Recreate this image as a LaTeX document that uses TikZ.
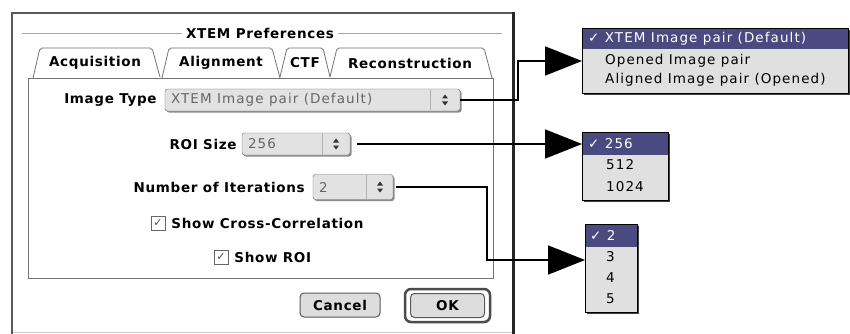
\documentclass[tikz,border=0pt]{standalone}
\usepackage{fontspec}
\setmainfont{DejaVu Sans}
\newfontfamily\chifont[LetterSpace=5]{DejaVu Sans}
\newfontfamily\genfont[LetterSpace=8]{DejaVu Sans}
\usetikzlibrary{positioning,arrows.meta}
\definecolor{menuhi}{HTML}{4A4A80}
\definecolor{menubg}{HTML}{E0E0E0}
\definecolor{popbg}{HTML}{E2E2E2}
\definecolor{btnbg}{HTML}{DDDDDD}
\newcommand{\lblfont}{\chifont\bfseries\fontsize{13.5}{15}\selectfont}
\newcommand{\itemfont}{\genfont\fontsize{13.5}{15}\selectfont}

\begin{document}
\begin{tikzpicture}[x=1pt,y=-1pt,
lbl/.style={font=\lblfont, inner sep=0pt},
popbox/.style={draw=black!60, fill=popbg, rounded corners=2.5pt, inner sep=0pt, minimum height=22pt,
  preaction={fill=black!45, transform canvas={xshift=1.5pt,yshift=-1.5pt}}},
poptext/.style={font=\itemfont, text=black!60, inner sep=0pt, anchor=west},
tab/.style={draw=black!55, fill=white, line width=0.8pt, rounded corners=2pt},
chk/.style={draw=black!60, fill=white, text=black!70, minimum size=14pt, inner sep=0pt, font=\bfseries\fontsize{11}{11}\selectfont},
btn/.style={draw=black!65, fill=btnbg, rounded corners=4pt, font=\lblfont, line width=1pt, minimum height=24pt},
menubox/.style={draw=black, fill=menubg, inner sep=0pt, anchor=north west, line width=1pt},
menuhl/.style={fill=menuhi, inner sep=0pt, anchor=north west},
item/.style={font=\itemfont, inner sep=0pt, anchor=west},
conn/.style={line width=1.8pt, -{Triangle[length=37pt,width=29pt]}},
updown/.pic={\fill[black!80] (-3,-1.5) -- (3,-1.5) -- (0,-5.5) -- cycle;
             \fill[black!80] (-3,1.5) -- (3,1.5) -- (0,5.5) -- cycle;}
]
\useasboundingbox (0,0) rectangle (850,334);
\fill[white] (0,0) rectangle (850,334);
%Window
\draw[black!20] (12,332) -- (513,332);
\draw[black!65, line width=2pt] (12,334) -- (12,13) -- (513,13);
\draw[black!85, line width=3pt] (513,12) -- (513,334);
\node[lbl] (title) at (260,33) {XTEM Preferences};
\draw[black!35] (22,33) -- ([xshift=-4pt]title.west);
\draw[black!35] ([xshift=4pt]title.east) -- (502,33);
%Panel and tabs
\draw[black!55, line width=0.8pt, fill=white] (28,78) rectangle (493,278);
\draw[tab] (33,78) -- (40,48) -- (152,48) -- (160,77);
\draw[tab] (280,77) -- (287,48) -- (323,48) -- (330,77);
\draw[tab] (330,77) -- (337,48) -- (484,48) -- (492,78);
\draw[tab] (162,78) -- (169,48) -- (272,48) -- (280,78);
\node[lbl] (acqtab)   at (95,63)  {Acquisition};
\node[lbl] (aligntab) at (221,63) {Alignment};
\node[lbl] (ctftab)   at (305,63) {CTF};
\node[lbl] (rectab)   at (410,63) {Reconstruction};
%Popups
\node[popbox, minimum width=295pt] (imgpop) at (312.5,100) {};
\node[poptext] (imgval) at ([xshift=6pt]imgpop.west) {XTEM Image pair (Default)};
\draw[black!30] (430,90) -- (430,110);
\pic at (445,100) {updown};
\node[lbl, left=8pt of imgpop] (typelbl) {Image Type};

\node[popbox, minimum width=108pt] (roipop) at (296,144) {};
\node[poptext] (roival) at ([xshift=6pt]roipop.west) {256};
\draw[black!30] (322,133) -- (322,155);
\pic at (336,144) {updown};
\node[lbl, left=5pt of roipop] (roilbl) {ROI Size};

\node[popbox, minimum width=80pt, minimum height=25pt] (iterpop) at (353,187) {};
\node[poptext] (iterval) at ([xshift=6pt]iterpop.west) {2};
\draw[black!30] (366,175) -- (366,199);
\pic at (380,187) {updown};
\node[lbl, left=8pt of iterpop] (iterlbl) {Number of Iterations};
%Checkboxes
\node[chk] (cbxcorr) at (158,223) {✓};
\node[lbl, right=6pt of cbxcorr] (corrlbl) {Show Cross-Correlation};
\node[chk] (cbxroi) at (221,257) {✓};
\node[lbl, right=6pt of cbxroi] (showroi) {Show ROI};
%Buttons
\node[btn, minimum width=80pt] (cancel) at (340,305) {Cancel};
\node[draw=black!70, line width=2.5pt, rounded corners=6pt, minimum width=85pt, minimum height=33pt] (okring) at (447.5,305.5) {};
\node[btn, minimum width=74pt] (ok) at (okring) {OK};
%Menus
\fill[black!75] (584,30) rectangle (850,95);
\node[menubox, minimum width=266pt, minimum height=65pt] (typemenu) at (582,28) {};
\node[menuhl, minimum width=265pt, minimum height=20pt] (typehl) at (582.5,28.5) {};
\node[item, text=white] (typeA) at (588,38.5) {✓ XTEM Image pair (Default)};
\node[item] (typeB) at (605,61) {Opened Image pair};
\node[item] (typeC) at (605,80) {Aligned Image pair (Opened)};

\fill[black!75] (584,134) rectangle (670,202);
\node[menubox, minimum width=86pt, minimum height=68pt] (roimenu) at (582,132) {};
\node[menuhl, minimum width=85pt, minimum height=22pt] (roihl) at (582.5,132.5) {};
\node[item, text=white] (roiA) at (588,143.5) {✓ 256};
\node[item] (roiB) at (606,165) {512};
\node[item] (roiC) at (606,187) {1024};

\fill[black!75] (587,226) rectangle (639,314);
\node[menubox, minimum width=52pt, minimum height=88pt] (itermenu) at (585,224) {};
\node[menuhl, minimum width=51pt, minimum height=22pt] (iterhl) at (585.5,224.5) {};
\node[item, text=white] (iterA) at (590,235.5) {✓ 2};
\node[item] (iterB) at (606,257) {3};
\node[item] (iterC) at (606,278) {4};
\node[item] (iterD) at (606,299) {5};
%Lines
\coordinate (itertip) at (585,260);
\draw[conn] (imgpop.east) -- ++(58,0) |- (typemenu.west);
\draw[conn] ([xshift=7pt]roipop.east) -- (roipop.east -| roimenu.west);
\draw[conn] ([xshift=3pt]iterpop.east) -- ++(91,0) |- (itertip);
\end{tikzpicture}
\end{document}
